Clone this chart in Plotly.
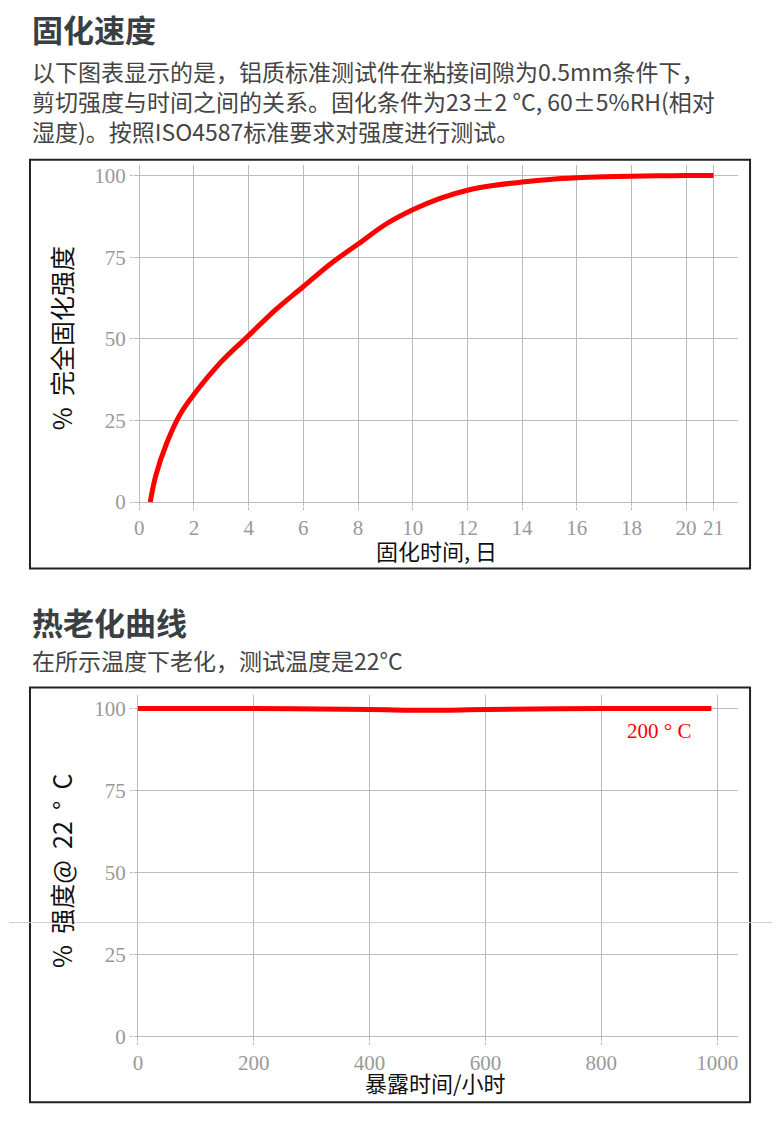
import plotly.graph_objects as go

# 固化速度 curve
cure_days = [0.4, 0.6, 1, 1.5, 2, 3, 4, 5, 6, 7, 8, 9, 10, 11, 12, 13, 14, 15, 16, 17, 18, 19, 20, 21]
cure_strength = [0, 8, 18, 27, 33, 43, 51, 59, 66, 73, 79, 85, 89.5, 93, 95.5, 97, 98, 98.8, 99.3, 99.6, 99.8, 99.9, 100, 100]
cure_ticks = [0, 2, 4, 6, 8, 10, 12, 14, 16, 18, 20, 21]

# 热老化 curve
age_hours = [0, 200, 400, 500, 600, 800, 990]
age_strength = [100, 100, 99.7, 99.5, 99.7, 100, 100]
age_ticks = [0, 200, 400, 600, 800, 1000]

y_ticks = [0, 25, 50, 75, 100]

W, H = 780, 1123
OFF = 8  # page body margin
def px(x):
    return (x - OFF) / W
def py(y):
    return 1 - (y - OFF) / H

fig = go.Figure()
fig.add_trace(go.Scatter(x=cure_days, y=cure_strength, mode='lines', line=dict(color='red', width=5, shape='spline'),
                         xaxis='x', yaxis='y', hoverinfo='skip'))
fig.add_trace(go.Scatter(x=age_hours, y=age_strength, mode='lines', line=dict(color='red', width=5, shape='spline'),
                         xaxis='x2', yaxis='y2', hoverinfo='skip'))

tickfont = dict(family='Liberation Serif', size=21, color='#999999')
grid = dict(showgrid=True, gridcolor='#bbbbbb', gridwidth=1, zeroline=False, tickfont=tickfont,
            ticks='outside', ticklen=3, tickcolor='#bbbbbb', showline=False)

fig.update_layout(
    width=W, height=H, autosize=False,
    margin=dict(l=0, r=0, t=0, b=0),
    paper_bgcolor='white', plot_bgcolor='white',
    showlegend=False,
    xaxis=dict(domain=[px(133), px(738)], range=[-0.2, 21.9], tickvals=cure_ticks, anchor='y', **grid),
    yaxis=dict(domain=[py(509), py(165)], range=[-1.2, 103.3], tickvals=y_ticks, anchor='x', **grid),
    xaxis2=dict(domain=[px(133), px(738)], range=[-7, 1036], tickvals=age_ticks, anchor='y2', **grid),
    yaxis2=dict(domain=[py(1048), py(700)], range=[-1.2, 104], tickvals=y_ticks, anchor='x2', **grid),
)

shapes = [
    dict(type='rect', xref='paper', yref='paper', x0=px(29), x1=px(750), y0=py(572), y1=py(160),
         line=dict(color='#222222', width=2)),
    dict(type='rect', xref='paper', yref='paper', x0=px(29), x1=px(750), y0=py(1110), y1=py(692),
         line=dict(color='#222222', width=2)),
    dict(type='line', xref='paper', yref='paper', x0=0, x1=1, y0=py(929), y1=py(929),
         line=dict(color='#cccccc', width=1)),
]
fig.update_layout(shapes=shapes)

cjk = 'Noto Sans CJK SC'
ann = [
    dict(x=px(29), y=py(28), text='<b>固化速度</b>', font=dict(family=cjk, size=31, color='#3a3f44'), xanchor='left'),
    dict(x=px(29), y=py(70), text='以下图表显示的是，铝质标准测试件在粘接间隙为0.5mm条件下，', font=dict(family=cjk, size=23, color='#444'), xanchor='left'),
    dict(x=px(29), y=py(101), text='剪切强度与时间之间的关系。固化条件为23±2 °C, 60±5%RH(相对', font=dict(family=cjk, size=23, color='#444'), xanchor='left'),
    dict(x=px(29), y=py(131), text='湿度)。按照ISO4587标准要求对强度进行测试。', font=dict(family=cjk, size=23, color='#444'), xanchor='left'),
    dict(x=px(29), y=py(625), text='<b>热老化曲线</b>', font=dict(family=cjk, size=31, color='#3a3f44'), xanchor='left'),
    dict(x=px(29), y=py(664), text='在所示温度下老化，测试温度是22°C', font=dict(family=cjk, size=23, color='#444'), xanchor='left'),
    dict(x=px(436), y=py(553), text='固化时间, 日', font=dict(family=cjk, size=22, color='#111')),
    dict(x=px(60), y=py(340), text='%  完全固化强度', textangle=-90, font=dict(family=cjk, size=25, color='#111')),
    dict(x=px(435), y=py(1090), text='暴露时间/小时', font=dict(family=cjk, size=22, color='#111')),
    dict(x=px(60), y=py(877), text='%  强度@  22  °  C', textangle=-90, font=dict(family=cjk, size=25, color='#111')),
    dict(x=px(659), y=py(736), text='200 ° C', font=dict(family='Liberation Serif', size=21, color='red')),
]
for a in ann:
    a.update(xref='paper', yref='paper', showarrow=False, yanchor='middle')
    if 'xanchor' not in a:
        a['xanchor'] = 'center'
fig.update_layout(annotations=ann)

fig.write_html("out.html")
